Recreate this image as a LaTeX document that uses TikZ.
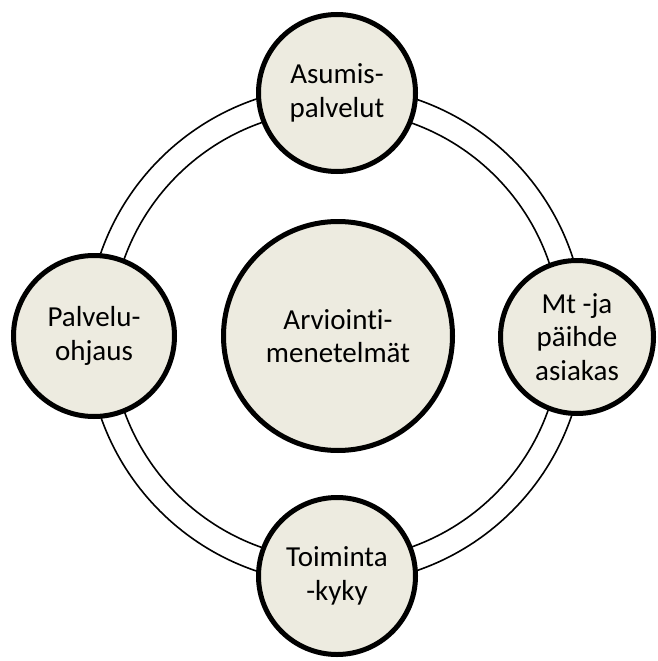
\documentclass[tikz,border=0pt]{standalone}
\usepackage{fontspec}
\setmainfont{Carlito}[Ligatures={NoCommon}]
\definecolor{fillbeige}{RGB}{237,235,224}
\begin{document}
\begin{tikzpicture}[x=1pt,y=-1pt,
  bubble/.style={circle, draw=black, line width=5pt, fill=fillbeige,
    minimum size=157pt, inner sep=0pt, align=center,
    font=\fontsize{29}{33.5}\selectfont},
  bigbubble/.style={bubble, minimum size=229pt},
  ringline/.style={draw=black, line width=1.6pt}]
\useasboundingbox (0,0) rectangle (657,661);
\coordinate (rc) at (336,335);
\draw[ringline] (rc) circle[radius=249pt];
\draw[ringline] (rc) circle[radius=225pt];
\node[bubble] (top) at (337,93) {Asumis-\\palvelut};
\node[bubble, minimum size=161pt] (left) at (94,336) {Palvelu-\\ohjaus};
\node[bubble, minimum size=153pt] (right) at (577,337) {Mt -ja\\päihde\\asiakas};
\node[bubble] (bottom) at (337,576) {Toiminta\\-kyky};
\node[bigbubble] (center) at (338,336) {Arviointi-\\menetelmät};
\end{tikzpicture}
\end{document}
